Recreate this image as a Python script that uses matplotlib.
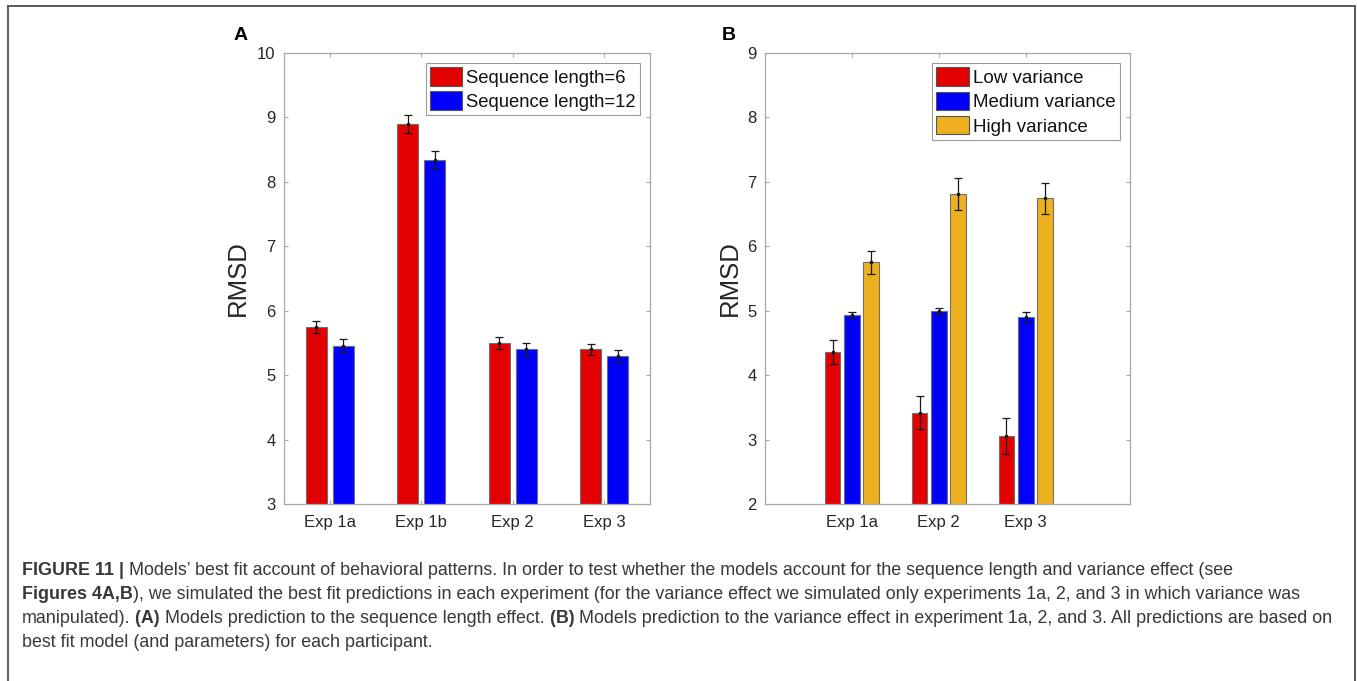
import matplotlib
matplotlib.use("Agg")
import matplotlib.pyplot as plt
import numpy as np
from matplotlib import font_manager
from matplotlib.lines import Line2D

# ---------------- data ----------------
exp_a = ["Exp 1a", "Exp 1b", "Exp 2", "Exp 3"]
seq6 = [5.75, 8.90, 5.50, 5.40]
seq6_err = [0.09, 0.14, 0.09, 0.09]
seq12 = [5.46, 8.34, 5.40, 5.30]
seq12_err = [0.095, 0.14, 0.10, 0.095]
legend_a = ["Sequence length=6", "Sequence length=12"]

exp_b = ["Exp 1a", "Exp 2", "Exp 3"]
low_var = [4.36, 3.42, 3.06]
low_err = [0.19, 0.25, 0.28]
med_var = [4.93, 5.00, 4.90]
med_err = [0.047, 0.045, 0.078]
high_var = [5.75, 6.81, 6.745]
high_err = [0.18, 0.245, 0.245]
legend_b = ["Low variance", "Medium variance", "High variance"]

yticks_a = [3, 4, 5, 6, 7, 8, 9, 10]
yticks_b = [2, 3, 4, 5, 6, 7, 8, 9]

caption_lines = [
    [("FIGURE 11 |", True), (" Models\u2019 best fit account of behavioral patterns. In order to test whether the models account for the sequence length and variance effect (see", False)],
    [("Figures 4A,B", True), ("), we simulated the best fit predictions in each experiment (for the variance effect we simulated only experiments 1a, 2, and 3 in which variance was", False)],
    [("manipulated).", False), (" (A)", True), (" Models prediction to the sequence length effect.", False), (" (B)", True), (" Models prediction to the variance effect in experiment 1a, 2, and 3. All predictions are based on", False)],
    [("best fit model (and parameters) for each participant.", False)],
]

# ---------------- style ----------------
RED = "#e30000"
BLUE = "#0000ff"
YEL = "#edb120"
SPINE = "#a8a8a8"
TXT = "#262626"

names = {f.name for f in font_manager.fontManager.ttflist}
REG = "Liberation Sans" if "Liberation Sans" in names else "DejaVu Sans"

W, H = 1357, 681
fig = plt.figure(figsize=(W / 100, H / 100), dpi=100)


def px_axes(l, t, r, b):
    return fig.add_axes([l / W, 1 - b / H, (r - l) / W, (b - t) / H])


def style_axes(ax, yticks, ylim, xlim, xticks, xlabels, ylab_x):
    ax.set_ylim(*ylim)
    ax.set_xlim(*xlim)
    ax.set_yticks(yticks)
    ax.set_xticks(xticks)
    ax.set_xticklabels(xlabels, fontfamily=REG, fontsize=12, color=TXT)
    ax.set_yticklabels([str(v) for v in yticks], fontfamily=REG, fontsize=12, color=TXT)
    for s in ax.spines.values():
        s.set_color(SPINE)
        s.set_linewidth(0.9)
    ax.tick_params(axis="both", direction="in", length=3, width=0.8, color=SPINE,
                   top=True, right=True)
    ax.tick_params(axis="x", pad=8)
    ax.tick_params(axis="y", pad=6)
    ax.set_ylabel("RMSD", fontfamily=REG, fontsize=18.5, color=TXT)
    ax.yaxis.set_label_coords(ylab_x, 0.5)


def bars(ax, x, vals, errs, color, width):
    ax.bar(x, vals, width=width, color=color, edgecolor="#707070", linewidth=0.8, zorder=2)
    ax.errorbar(x, vals, yerr=errs, fmt="o", ms=1.6, color="#1a1a1a", ecolor="#1a1a1a",
                elinewidth=0.9, capsize=3.2, capthick=0.9, zorder=3)


# ---------------- panel A ----------------
axA = px_axes(284, 53, 650, 504)
xa = np.arange(1, len(exp_a) + 1)
bars(axA, xa - 0.147, seq6, seq6_err, RED, 0.228)
bars(axA, xa + 0.147, seq12, seq12_err, BLUE, 0.228)
style_axes(axA, yticks_a, (3, 10), (0.5, 4.5), xa, exp_a, -0.093)
hA = [plt.Rectangle((0, 0), 1, 1, facecolor=c, edgecolor="#555555", linewidth=0.8) for c in (RED, BLUE)]
legA = axA.legend(hA, legend_a, loc="upper right", bbox_to_anchor=(0.9727, 0.9785),
                  borderaxespad=0, fancybox=False, framealpha=1, edgecolor="#9a9a9a",
                  prop={"family": REG, "size": 13.3}, handlelength=1.73, handleheight=1.14,
                  handletextpad=0.2, labelspacing=0.25, borderpad=0.25)
legA.get_frame().set_linewidth(0.8)
for t in legA.get_texts():
    t.set_color("#111111")

# ---------------- panel B ----------------
axB = px_axes(765, 53, 1130, 504)
xb = np.arange(1, len(exp_b) + 1)
bars(axB, xb - 0.222, low_var, low_err, RED, 0.181)
bars(axB, xb, med_var, med_err, BLUE, 0.181)
bars(axB, xb + 0.222, high_var, high_err, YEL, 0.181)
style_axes(axB, yticks_b, (2, 9), (0.0, 4.2), xb, exp_b, -0.063)
hB = [plt.Rectangle((0, 0), 1, 1, facecolor=c, edgecolor="#555555", linewidth=0.8) for c in (RED, BLUE, YEL)]
legB = axB.legend(hB, legend_b, loc="upper right", bbox_to_anchor=(0.9726, 0.9785),
                  borderaxespad=0, fancybox=False, framealpha=1, edgecolor="#9a9a9a",
                  prop={"family": REG, "size": 13.5}, handlelength=1.73, handleheight=1.14,
                  handletextpad=0.2, labelspacing=0.25, borderpad=0.25)
legB.get_frame().set_linewidth(0.8)
for t in legB.get_texts():
    t.set_color("#111111")

# panel letters
fig.text(241 / W, 1 - 36 / H, "A", fontfamily=REG, fontweight="bold", fontsize=14,
         ha="center", va="center", color="#000000")
fig.text(729 / W, 1 - 36 / H, "B", fontfamily=REG, fontweight="bold", fontsize=14,
         ha="center", va="center", color="#000000")

# outer frame (open at bottom)
for xs, ys in [((8, 8), (H + 5, 6)), ((8, 1355), (6, 6)), ((1355, 1355), (6, H + 5))]:
    fig.add_artist(Line2D([x / W for x in xs], [1 - y / H for y in ys], color="#5a5a5a",
                          linewidth=1.4, transform=fig.transFigure))

# ---------------- caption ----------------
renderer = fig.canvas.get_renderer()
CAP = "#383838"


def draw_line(pieces, x0, base_y, size):
    x = x0
    arts = []
    for txt, bold in pieces:
        t = fig.text(x / W, 1 - base_y / H, txt, fontfamily=REG, fontsize=size,
                     fontweight="bold" if bold else "normal", color=CAP,
                     ha="left", va="baseline")
        bb = t.get_window_extent(renderer)
        x += bb.width
        arts.append(t)
    return x, arts


# fit caption size so the third line spans the measured width
probe_end, probe = draw_line(caption_lines[2], 22, 900, 10)
for a in probe:
    a.remove()
cap_size = 10 * (1340 - 22) / (probe_end - 22)

baselines = [575, 599, 623, 647]
for pieces, by in zip(caption_lines, baselines):
    draw_line(pieces, 22, by, cap_size)

fig.savefig("out.png", dpi=100)
